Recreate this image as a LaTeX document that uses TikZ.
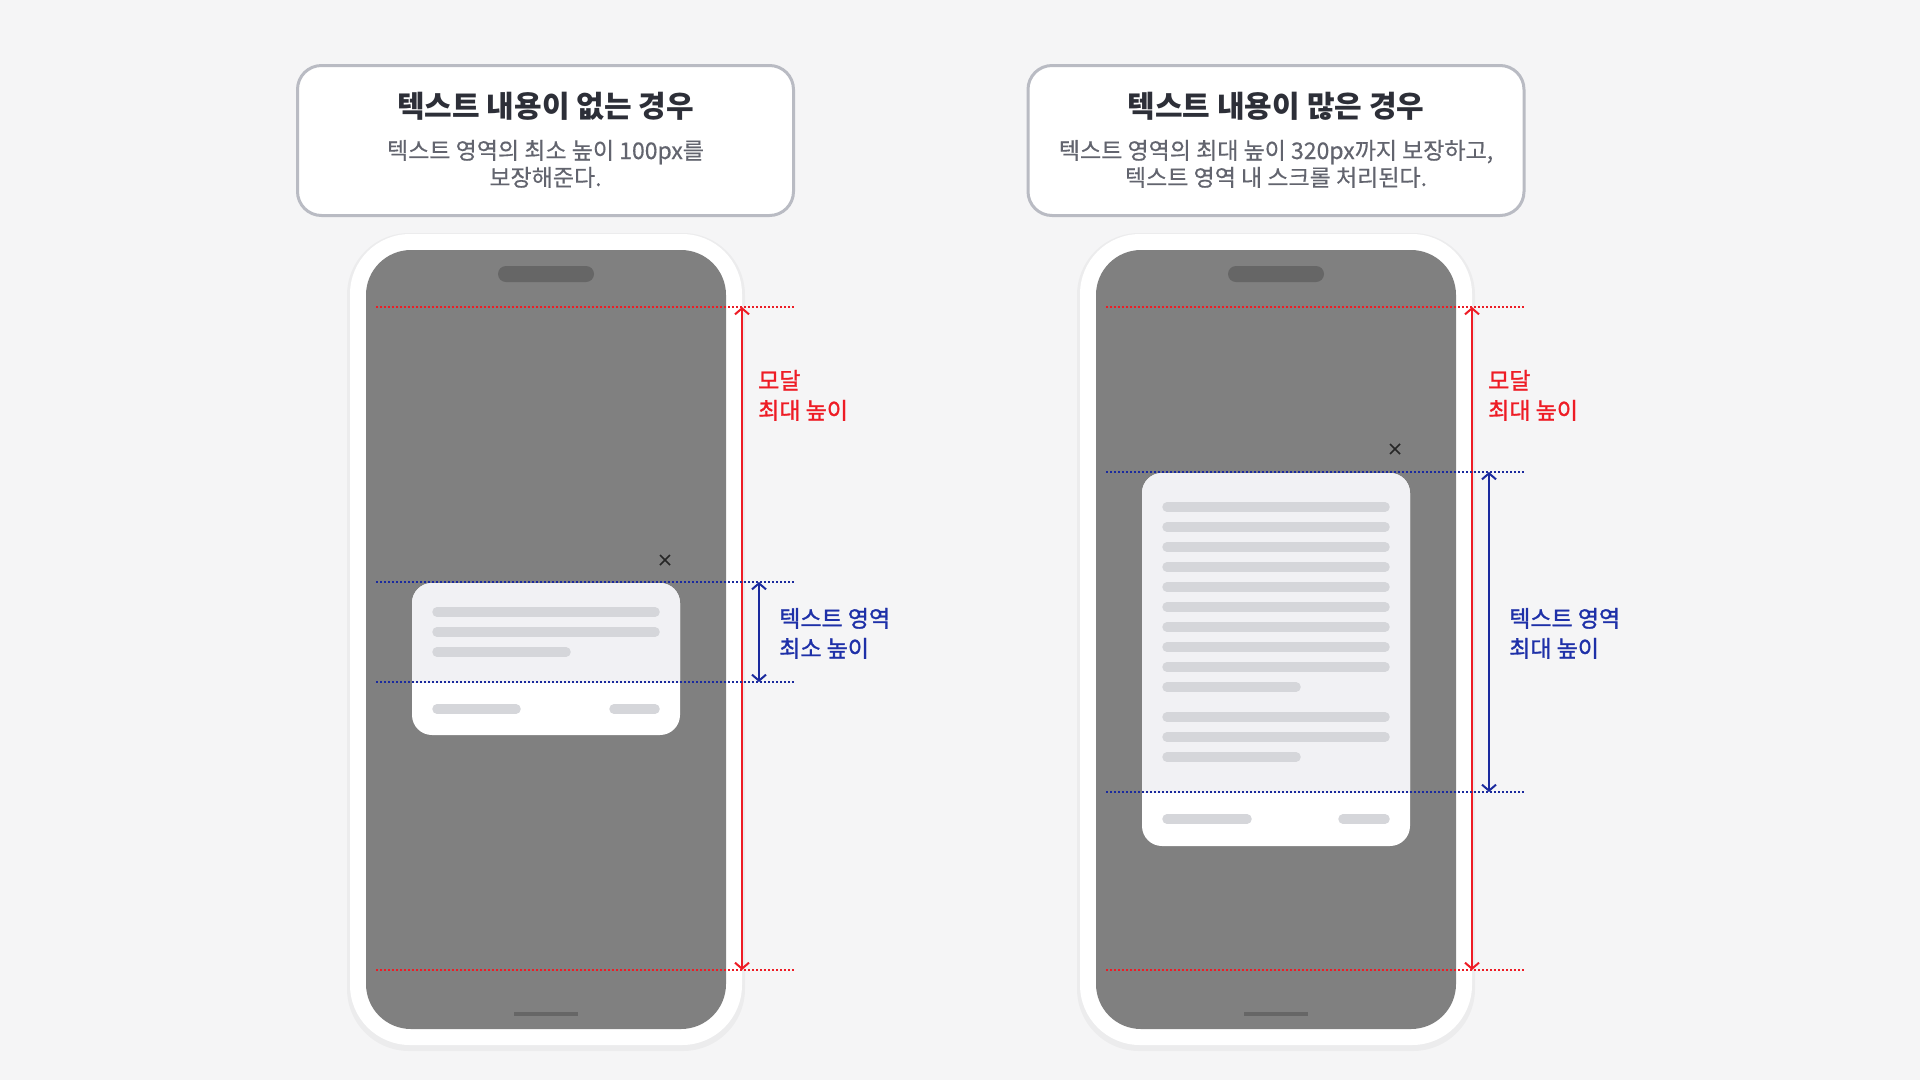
\documentclass[tikz,border=0pt]{standalone}
\usepackage{fontspec}
\setmainfont{Noto Sans CJK KR}
\newfontfamily\krmed[FakeBold=1.2]{Noto Sans CJK KR}
\newfontfamily\krsub[FakeBold=0.4]{Noto Sans CJK KR}
\usetikzlibrary{arrows.meta}
\definecolor{bg}{HTML}{F5F5F6}
\definecolor{hdrline}{HTML}{B9BBC3}
\definecolor{titlec}{HTML}{2D2F38}
\definecolor{subc}{HTML}{62646E}
\definecolor{screenc}{HTML}{808080}
\definecolor{notchc}{HTML}{666666}
\definecolor{modaltop}{HTML}{F1F1F4}
\definecolor{barc}{HTML}{D5D6DA}
\definecolor{redc}{HTML}{EE1C25}
\definecolor{bluec}{HTML}{1A2A9E}
\definecolor{bluetext}{HTML}{1E30A8}
\begin{document}
\begin{tikzpicture}[x=1pt,y=-1pt,
  hdr/.style={draw=hdrline,line width=3pt,fill=white,rounded corners=24pt,minimum width=496pt,minimum height=150pt,inner sep=0pt,outer sep=0pt},
  titletext/.style={font=\fontsize{30pt}{36pt}\selectfont\bfseries,text=titlec,inner sep=0pt,anchor=base},
  subtext/.style={font=\fontsize{23pt}{27pt}\selectfont\krsub,text=subc,inner sep=0pt,anchor=base,align=center},
  phonebody/.style={fill=white,rounded corners=60pt,minimum width=392pt,minimum height=811pt,inner sep=0pt,outer sep=0pt},
  phoneshadow/.style={fill=black,opacity=0.035,rounded corners=62pt,minimum width=398pt,minimum height=818pt,inner sep=0pt},
  screenbox/.style={fill=screenc,rounded corners=45pt,minimum width=360pt,minimum height=779pt,inner sep=0pt,outer sep=0pt},
  notchbox/.style={fill=notchc,rounded corners=8pt,minimum width=96pt,minimum height=16pt,inner sep=0pt},
  homebar/.style={fill=notchc,minimum width=64pt,minimum height=4pt,inner sep=0pt},
  bar/.style={draw=barc,line width=9.5pt,line cap=round},
  reddot/.style={draw=redc,line width=2pt,dash pattern=on 2pt off 2pt},
  bluedot/.style={draw=bluec,line width=2pt,dash pattern=on 2pt off 2pt},
  redarrow/.style={draw=redc,line width=2pt,{Straight Barb[length=6pt,width=14pt]}-{Straight Barb[length=6pt,width=14pt]}},
  bluearrow/.style={draw=bluec,line width=2pt,{Straight Barb[length=6pt,width=14pt]}-{Straight Barb[length=6pt,width=14pt]}},
  redlabel/.style={font=\fontsize{23pt}{30pt}\selectfont\krmed,text=redc,inner sep=0pt,anchor=base west,align=left},
  bluelabel/.style={font=\fontsize{23pt}{30pt}\selectfont\krmed,text=bluetext,inner sep=0pt,anchor=base west,align=left},
  closex/.style={draw=black!85,line width=1.6pt}
]
\useasboundingbox[fill=bg] (0,0) rectangle (1920,1080);

% ---------- headers ----------
\node[hdr] (hL) at (545.5,140.5) {};
\node[titletext] (tL) at (545.5,117) {텍스트 내용이 없는 경우};
\node[subtext] (sL) at (545.5,186) {텍스트 영역의 최소 높이 100px를\\보장해준다.};

\node[hdr] (hR) at (1276,140.5) {};
\node[titletext] (tR) at (1276,117) {텍스트 내용이 많은 경우};
\node[subtext] (sR) at (1276,186) {텍스트 영역의 최대 높이 320px까지 보장하고,\\텍스트 영역 내 스크롤 처리된다.};

% ---------- phones ----------
\foreach \dx/\nm in {0/L,730/R}{
  \node[phoneshadow] (shadow\nm) at (546+\dx,642) {};
  \node[phonebody] (phone\nm) at (546+\dx,639.5) {};
  \node[screenbox] (screen\nm) at (546+\dx,639.5) {};
  \node[notchbox] (notch\nm) at (546+\dx,274) {};
  \node[homebar] (home\nm) at (546+\dx,1014) {};
}

% ---------- left modal ----------
\fill[white,rounded corners=20pt] (412,583) rectangle (680,735);
\begin{scope}
  \clip (412,583) rectangle (680,682);
  \fill[modaltop,rounded corners=20pt] (412,583) rectangle (680,735);
\end{scope}
\draw[bar] (437,612) -- (655,612);
\draw[bar] (437,632) -- (655,632);
\draw[bar] (437,652) -- (566,652);
\draw[bar] (437,709) -- (516,709);
\draw[bar] (614,709) -- (655,709);
\draw[closex] (660,555) -- (670,565);
\draw[closex] (660,565) -- (670,555);

% ---------- right modal ----------
\fill[white,rounded corners=20pt] (1142,473) rectangle (1410,846);
\begin{scope}
  \clip (1142,473) rectangle (1410,792);
  \fill[modaltop,rounded corners=20pt] (1142,473) rectangle (1410,846);
\end{scope}
\foreach \yy in {507,527,547,567,587,607,627,647,667,717,737}{
  \draw[bar] (1167,\yy) -- (1385,\yy);
}
\draw[bar] (1167,687) -- (1296,687);
\draw[bar] (1167,757) -- (1296,757);
\draw[bar] (1167,819) -- (1247,819);
\draw[bar] (1343,819) -- (1385,819);
\draw[closex] (1390,444) -- (1400,454);
\draw[closex] (1390,454) -- (1400,444);

% ---------- guide lines ----------
\foreach \dx/\nm in {0/L,730/R}{
  \coordinate (rt\nm) at (742+\dx,307);
  \coordinate (rb\nm) at (742+\dx,970);
  \draw[reddot] (376+\dx,307) -- (794+\dx,307);
  \draw[reddot] (376+\dx,970) -- (794+\dx,970);
  \draw[redarrow] (rt\nm) -- (rb\nm);
  \node[redlabel] (rl\nm) at (758+\dx,419) {모달\\최대 높이};
}

% left blue
\coordinate (btL) at (759,582);
\coordinate (bbL) at (759,682);
\draw[bluedot] (376,582) -- (794,582);
\draw[bluedot] (376,682) -- (794,682);
\draw[bluearrow] (btL) -- (bbL);
\node[bluelabel] (blL) at (779,657) {텍스트 영역\\최소 높이};

% right blue
\coordinate (btR) at (1489,472);
\coordinate (bbR) at (1489,792);
\draw[bluedot] (1106,472) -- (1524,472);
\draw[bluedot] (1106,792) -- (1524,792);
\draw[bluearrow] (btR) -- (bbR);
\node[bluelabel] (blR) at (1509,657) {텍스트 영역\\최대 높이};
\end{tikzpicture}
\end{document}
